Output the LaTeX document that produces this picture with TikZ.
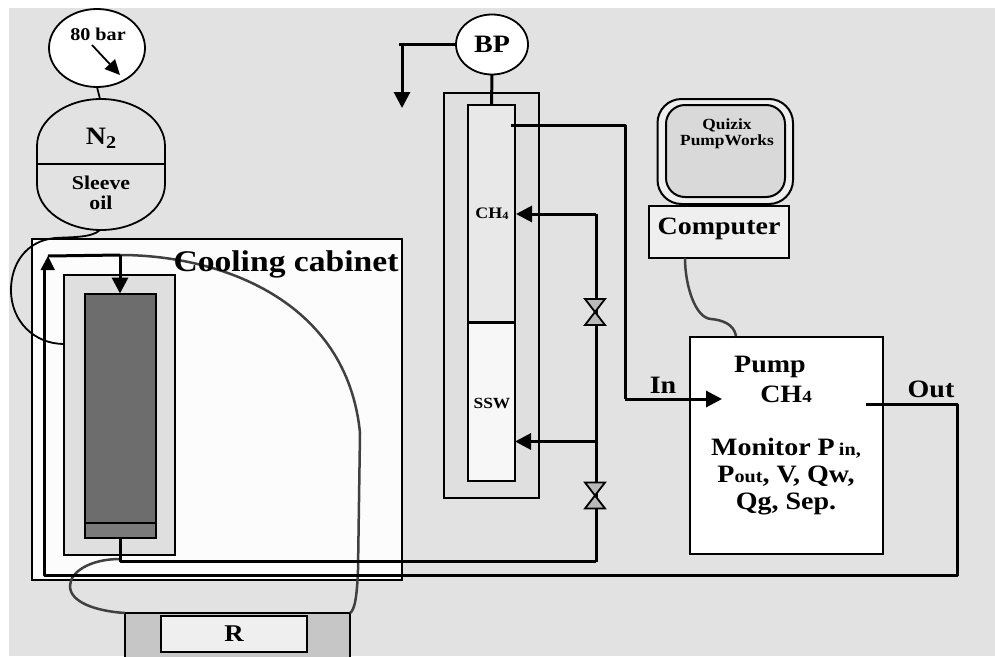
\documentclass[tikz,border=0pt]{standalone}
\usepackage{fontspec}
\setmainfont[FakeStretch=1.12]{Liberation Serif}
\usetikzlibrary{arrows.meta,shapes.geometric,calc}
\newcommand{\fs}[1]{\fontsize{#1}{#1}\selectfont\bfseries}
\definecolor{bgc}{HTML}{E2E2E2}
\definecolor{sleevec}{HTML}{DFDFDF}
\definecolor{corec}{HTML}{6D6D6D}
\definecolor{pistonc}{HTML}{7A7A7A}
\definecolor{panelc}{HTML}{EFEFEF}
\definecolor{curvec}{HTML}{404040}
\tikzset{
  box/.style={draw=black,line width=1.8pt,rectangle,inner sep=0pt,outer sep=0pt},
  dial/.style={draw=black,line width=1.8pt,ellipse,fill=white,inner sep=0pt,outer sep=0pt},
  pipe/.style={draw=black,line width=3pt,line join=round},
  tipped/.style={pipe,-{Triangle[length=16pt,width=16pt]}},
  cable/.style={draw=curvec,line width=2.5pt},
  thinline/.style={draw=black,line width=1.8pt},
  lab/.style={inner sep=0pt,outer sep=0pt,text=black,font=\fs{25}},
  valve/.pic={\draw[line width=1.8pt,fill=gray!55,line join=miter] (-10,-13)--(10,-13)--(0,0)--cycle;
              \draw[line width=1.8pt,fill=gray!55,line join=miter] (-10,13)--(10,13)--(0,0)--cycle;}
}
\begin{document}
\begin{tikzpicture}[x=1pt,y=-1pt]
\useasboundingbox (0,0) rectangle (995,656);
\fill[bgc] (9,8) rectangle (995,656);
% cabinet
\node[box,fill=white!99!black,minimum width=370pt,minimum height=341pt] (cabinet) at (217,409.5) {};
% coreflood sleeve and core
\node[box,fill=sleevec,minimum width=111pt,minimum height=280pt] (sleeve) at (119.5,415) {};
\node[box,fill=pistonc,minimum width=71pt,minimum height=244pt] (corecell) at (120.5,416) {};
\fill[corec] (85,294) rectangle (156,523);
\draw[thinline] (85,294) rectangle (156,538);
\coordinate (pistonL) at (85,523); \coordinate (pistonR) at (156,523);
\draw[line width=2.4pt] (pistonL) -- (pistonR);
% tank
\node[dial,minimum width=96pt,minimum height=78pt] (gauge) at (97,48) {};
\draw[line width=1.8pt,fill=bgc] (37,146) arc[start angle=180,end angle=360,x radius=64,y radius=47] -- (165,184) arc[start angle=0,end angle=180,x radius=64,y radius=46] -- cycle;
\coordinate (tanktop) at (100,99);
\coordinate (tankbottom) at (100,230);
\coordinate (tankL) at (37,164); \coordinate (tankR) at (165,164);
\draw[line width=1.8pt] (tankL) -- (tankR);
\draw[thinline] (gauge.south) -- (tanktop);
\coordinate (dialA) at (92,45); \coordinate (dialB) at (120,75);
\draw[line width=1.8pt,-{Triangle[length=15pt,width=14pt]}] (dialA) -- (dialB);
% R
\node[box,fill=gray!45!white,minimum width=225pt,minimum height=45pt] (rbase) at (237.5,635.5) {};
\node[box,fill=panelc,minimum width=146pt,minimum height=36pt,lab,font=\fs{24}] (R) at (234,634) {\raisebox{-2pt}{R}};
% oil cable
\coordinate (oilEnd) at (64,344);
\draw[thinline] (tankbottom) .. controls (92,238) and (70,237) .. (55,238) .. controls (25,241) and (11,265) .. (11,290) .. controls (11,322) and (35,344) .. (oilEnd);
% cabinet cooling cable
\coordinate (topT) at (120,255);
\coordinate (bend) at (360,433);
\draw[cable] (topT) .. controls (220,255) and (347,300) .. (bend) -- (358,570) .. controls (357,595) and (355,610) .. (350,613);
\coordinate (lowT) at (120,559);
\draw[cable] (lowT) .. controls (90,559) and (70,572) .. (70,586) .. controls (70,602) and (95,611) .. (rbase.north west);
% cabinet pipes
\coordinate (upTip) at (48,256);
\coordinate (bottomL) at (44,575);
\coordinate (outR) at (957,575);
\coordinate (outT) at (957,404);
\coordinate (outS) at (866,404);
\draw[pipe] (outS) -- (outT) -- (outR) -- (bottomL) -- (44,268);
\fill[black] (40.5,270) -- (55,270) -- (48,256) -- cycle;
\draw[pipe] (upTip) -- (topT);
\coordinate (coreTop) at (120,293.5);
\draw[tipped] (topT) -- (coreTop);
\coordinate (injR) at (596,561.5);
\draw[pipe] (120,538) |- (injR);
% BP column
\node[box,fill=sleevec,minimum width=95pt,minimum height=405pt] (column) at (491.5,295.5) {};
\node[box,fill=panelc!50!bgc,minimum width=47pt,minimum height=376pt] (cell) at (491.5,293) {};
\fill[white!97!black] (468,322) rectangle (515,481);
\draw[thinline] (468,105) rectangle (515,481);
\coordinate (ifL) at (468,322); \coordinate (ifR) at (515,322);
\draw[line width=3pt] (ifL) -- (ifR);
\node[dial,minimum width=72pt,minimum height=60pt,lab] (BP) at (492,44.5) {BP};
\draw[pipe] (BP.south) -- (cell.north);
\coordinate (bpL) at (399,44.5);
\coordinate (bpTurn) at (402,44.5);
\coordinate (bpTip) at (402,108);
\draw[pipe] (BP.west) -- (bpL);
\draw[tipped] (bpTurn) -- (bpTip);
% pipes
\coordinate (inS) at (511,125);
\coordinate (inC1) at (625,125);
\coordinate (inC2) at (625,399);
\coordinate (inTip) at (722,399);
\node[box,fill=white,minimum width=193pt,minimum height=217pt] (pump) at (786.5,445.5) {};
\draw[pipe] (inS) -- (inC1) -- (inC2);
\draw[tipped] (inC2) -- (inTip);
\coordinate (ch4J) at (596,214);
\coordinate (ch4Tip) at (516,214);
\coordinate (sswJ) at (596,441.5);
\coordinate (sswTip) at (515,441.5);
\draw[pipe] (ch4J) -- (injR);
\draw[tipped] (ch4J) -- (ch4Tip);
\draw[tipped] (sswJ) -- (sswTip);
\pic at (595,312) {valve};
\pic at (595,495.5) {valve};
\draw[pipe] (outS) -- (outT);
% computer
\draw[line width=2pt,fill=panelc,rounded corners=24pt] (657.5,99) rectangle (793,204);
\draw[line width=2pt,fill=gray!30!white,rounded corners=19pt] (666,105) rectangle (785,197);
\node[box,fill=panelc,minimum width=140pt,minimum height=52pt] (computer) at (719,232) {};
\coordinate (compOut) at (685,258);
\coordinate (pumpIn) at (736,336);
\draw[cable] (compOut) .. controls (685,285) and (695,318) .. (711,319) .. controls (722,320) and (734,324) .. (pumpIn);
% labels
\node[lab,font=\fs{18}] (t80) at (98,34) {80 bar};
\node[lab] (tN) at (101,138) {N\raisebox{-4pt}{\fs{18}2}};
\node[lab,font=\fs{19.5},align=center] (tS) at (101,193) {Sleeve\\[1pt]oil};
\node[lab,font=\fs{30}] (tC) at (286,264) {Cooling cabinet};
\node[lab,font=\fs{16}] (tCH) at (492,214) {CH\raisebox{-1pt}{\fs{11}4}};
\node[lab,font=\fs{15.5}] (tSSW) at (492,403) {SSW};
\node[lab,font=\fs{15.5},align=center] (tQ) at (727,134) {Quizix\\[1pt]PumpWorks};
\node[lab] (tComp) at (719,229) {Computer};
\node[lab] (tIn) at (663,385) {In};
\node[lab] (tOut) at (931,389) {Out};
\node[lab] (tPump) at (770,367) {Pump};
\node[lab] (tCH4) at (786,394) {CH\fs{17}4};
\node[lab,align=center] (tMon) at (786,477) {Monitor P\,\fs{18}in,\\[2pt]P\fs{18}out\fs{25}, V, Qw,\\[2pt]Qg, Sep.};
\end{tikzpicture}
\end{document}
